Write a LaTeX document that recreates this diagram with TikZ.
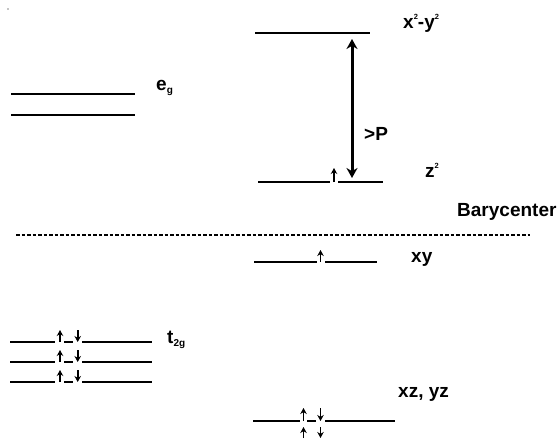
\documentclass[tikz,border=0pt]{standalone}
\usepackage{fontspec}
\setmainfont{Liberation Sans}
\usetikzlibrary{arrows.meta}

\newcommand{\supr}[1]{\raisebox{9pt}{\fontsize{7.5}{7.5}\selectfont #1}}
\newcommand{\subr}[1]{\raisebox{-3.5pt}{\fontsize{10}{10}\selectfont #1}}

\begin{document}
\begin{tikzpicture}[
    x=1pt, y=-1pt,
    level/.style={line width=1.9pt},
    spin/.style={line width=1.8pt, -{Stealth[length=6pt, width=6.5pt]}},
    split_arrow/.style={line width=3pt, {Stealth[length=10pt, width=11pt]}-{Stealth[length=10pt, width=11pt]}},
    lvl_label/.style={anchor=base west, inner sep=0pt, font=\bfseries\fontsize{19}{22}\selectfont},
    bary/.style={line width=1.9pt, dash pattern=on 3.5pt off 2pt}
]
    \useasboundingbox (0,0) rectangle (560,439);

    \fill (8,9) circle [radius=0.7pt];

    % Octahedral e_g set
    \draw[level] (11,94) -- (135,94);
    \draw[level] (11,115) -- (135,115);
    \node[lvl_label] (eg) at (156,90) {e\subr{g}};

    % Octahedral t_2g set
    \foreach \y in {342,362,382} {
        \draw[level] (10,\y) -- (55,\y);
        \draw[level] (64,\y) -- (73,\y);
        \draw[level] (82,\y) -- (152,\y);
        \draw[spin] (60,\y) -- (60,\y-12);
        \draw[spin] (77.7,\y-12) -- (77.7,\y);
    }
    \node[lvl_label] (t2g) at (167,343) {t\subr{2g}};

    % Barycenter
    \draw[bary] (16,235) -- (530,235);
    \node[lvl_label] (bc) at (457,216) {Barycenter};

    % Split levels
    \draw[level] (255,33) -- (370,33);
    \coordinate (x2y2) at (352,33);
    \node[lvl_label] (x2y2_lbl) at (403,28) {x\supr{2}-y\supr{2}};

    \draw[level] (258,182) -- (330,182);
    \draw[level] (338,182) -- (383,182);
    \draw[spin] (334,182) -- (334,168);
    \coordinate (z2) at (352,182);
    \node[lvl_label] (z2_lbl) at (425,177) {z\supr{2}};

    \draw[split_arrow] ([yshift=-6pt]x2y2) -- ([yshift=4pt]z2);
    \node[lvl_label] (pair) at (364,140) {>P};

    \draw[level] (254,262) -- (317,262);
    \draw[level] (325,262) -- (377,262);
    \draw[spin] (320.5,262) -- (320.5,250);
    \node[lvl_label] (xy_lbl) at (411,262) {xy};

    \draw[level] (253,421) -- (300,421);
    \draw[level] (307,421) -- (316,421);
    \draw[level] (325,421) -- (395,421);
    \draw[spin] (303.5,421) -- (303.5,408);
    \draw[spin] (320.5,408) -- (320.5,421);
    \draw[spin] (303.5,438) -- (303.5,427);
    \draw[spin] (320.5,427) -- (320.5,438);
    \node[lvl_label] (xzyz_lbl) at (398,397) {xz, yz};
\end{tikzpicture}
\end{document}
